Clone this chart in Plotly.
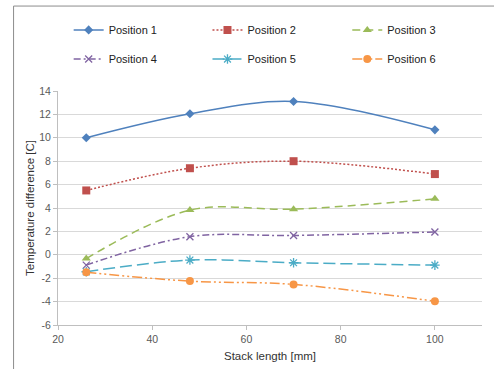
import plotly.graph_objects as go

# Stack length [mm] at which the temperature difference was measured
stack_length = [26, 48, 70, 100]

# Temperature difference [C] per sensor position
pos1 = [10.0, 12.05, 13.1, 10.68]
pos2 = [5.5, 7.4, 8.0, 6.9]
pos3 = [-0.32, 3.82, 3.9, 4.78]
pos4 = [-0.88, 1.55, 1.65, 1.95]
pos5 = [-1.45, -0.45, -0.68, -0.88]
pos6 = [-1.5, -2.25, -2.53, -3.97]

series_names = ["Position 1", "Position 2", "Position 3",
                "Position 4", "Position 5", "Position 6"]
series_values = [pos1, pos2, pos3, pos4, pos5, pos6]

x_ticks = [20, 40, 60, 80, 100]
y_ticks = [-6, -4, -2, 0, 2, 4, 6, 8, 10, 12, 14]

colors = ["#4F81BD", "#C0504D", "#9BBB59", "#8064A2", "#4BACC6", "#F79646"]
dashes = ["solid", "2px,2px", "8px,5px", "7px,3px,2px,3px", "12px,5px",
          "10px,3px,2px,3px,2px,3px"]
symbols = ["diamond", "square", "triangle-up", "x-thin-open",
           "asterisk-open", "circle"]
sizes = [7, 8, 8, 7, 8, 8]

# one legend per entry, laid out as a 3 x 2 grid above the plot (container fractions)
legend_ids = ["legend", "legend2", "legend3", "legend4", "legend5", "legend6"]
legend_x = [0.139, 0.42, 0.703, 0.139, 0.42, 0.703]
legend_y = [0.919, 0.919, 0.919, 0.840, 0.840, 0.840]

font_family = "Liberation Sans, Arial, sans-serif"

fig = go.Figure()
for name, vals, col, dash, sym, sz, lg in zip(series_names, series_values, colors,
                                           dashes, symbols, sizes, legend_ids):
    open_sym = sym.endswith("-open")
    fig.add_trace(go.Scatter(
        x=stack_length, y=vals, name=name, mode="lines+markers",
        line=dict(color=col, width=1.5, dash=dash, shape="spline", smoothing=1.0),
        marker=dict(symbol=sym, size=sz, color=col,
                    line=dict(color=col, width=1.3 if open_sym else 0)),
        legend=lg,
    ))

legend_layout = {}
for lg, lx, ly in zip(legend_ids, legend_x, legend_y):
    legend_layout[lg] = dict(
        xref="container", yref="container", x=lx, y=ly,
        xanchor="left", yanchor="middle", orientation="h",
        font=dict(family=font_family, size=11, color="#222222"),
        bgcolor="rgba(0,0,0,0)", itemwidth=30,
    )

axis_font = dict(family=font_family, size=10.5, color="#595959")

fig.update_layout(
    width=494, height=369,
    margin=dict(l=57.5, r=12, t=91, b=44, autoexpand=False),
    paper_bgcolor="white", plot_bgcolor="white",
    showlegend=True,
    xaxis=dict(
        range=[20, 110], tickvals=x_ticks, ticktext=[str(v) for v in x_ticks],
        showgrid=False, zeroline=False,
        showline=True, linecolor="#BFBFBF", linewidth=1,
        ticks="outside", ticklen=4, tickcolor="#BFBFBF",
        tickfont=axis_font,
        title=dict(text="Stack length [mm]", standoff=8,
                   font=dict(family=font_family, size=11.5, color="#333333")),
    ),
    yaxis=dict(
        range=[-6, 14], tickvals=y_ticks, ticktext=[str(v) for v in y_ticks],
        showgrid=True, gridcolor="#D9D9D9",
        zeroline=False, showline=True, linecolor="#BFBFBF", linewidth=1,
        ticks="outside", ticklen=4, tickcolor="#BFBFBF",
        tickfont=axis_font,
        title=dict(text="Temperature difference [C]", standoff=2,
                   font=dict(family=font_family, size=11.5, color="#333333")),
    ),
    shapes=[
        # outer chart frame (top and left edges)
        dict(type="line", xref="paper", yref="paper",
             x0=-0.1048, x1=1.05, y0=1.363, y1=1.363,
             line=dict(color="#8C8C8C", width=1)),
        dict(type="line", xref="paper", yref="paper",
             x0=-0.1048, x1=-0.1048, y0=1.363, y1=-0.25,
             line=dict(color="#8C8C8C", width=1)),
    ],
    **legend_layout,
)

fig.write_html("out.html")
